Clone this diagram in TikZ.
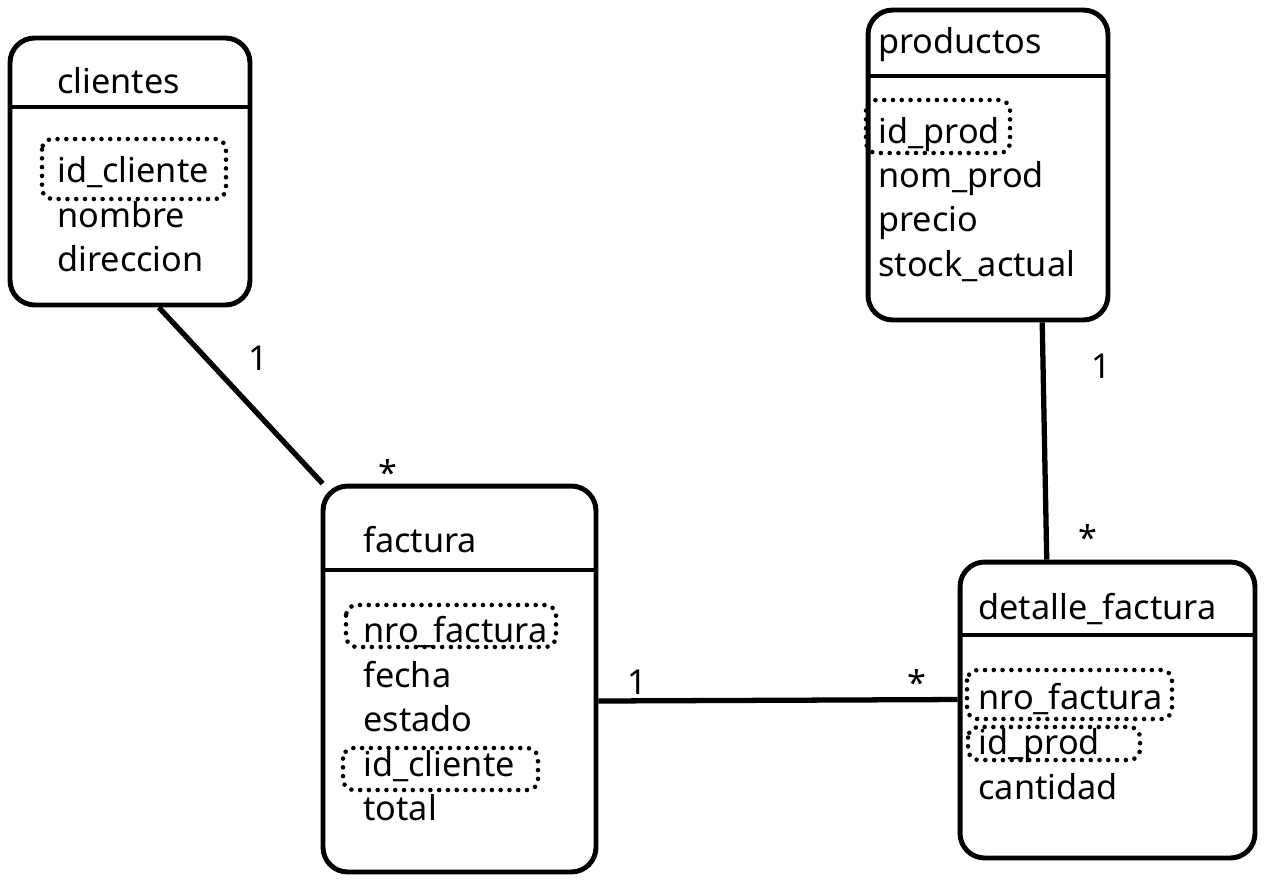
\documentclass[tikz,border=0pt]{standalone}
\usepackage{fontspec}
\setmainfont{Noto Sans}
\tikzset{
  table/.style={draw, line width=2.8pt, rounded corners=14pt, inner sep=0pt},
  field/.style={anchor=base west, inner sep=0pt, font=\fontsize{19.5}{22}\selectfont},
  keybox/.style={line width=2.6pt, dash pattern=on 0pt off 5pt, line cap=round, rounded corners=6pt},
  rel/.style={line width=3pt},
  mult/.style={inner sep=0pt, font=\fontsize{19.5}{22}\selectfont}
}
\begin{document}
\begin{tikzpicture}[x=0.02cm,y=-0.02cm]
  \useasboundingbox (0,0) rectangle (1266,883);
  % tables
  \node [table, minimum width=4.8cm, minimum height=5.34cm] (clientes) at (130,171.5) {};
  \node [table, minimum width=4.8cm, minimum height=6.2cm] (productos) at (988,165) {};
  \node [table, minimum width=5.46cm, minimum height=7.72cm] (factura) at (459.5,679) {};
  \node [table, minimum width=5.9cm, minimum height=5.92cm] (detalle) at (1107.5,710) {};
  % header lines
  \draw [line width=2.8pt] (clientes.west |- 0,107) -- (clientes.east |- 0,107);
  \draw [line width=2.8pt] (productos.west |- 0,76) -- (productos.east |- 0,76);
  \draw [line width=2.8pt] (factura.west |- 0,570) -- (factura.east |- 0,570);
  \draw [line width=2.8pt] (detalle.west |- 0,635) -- (detalle.east |- 0,635);
  % clientes
  \node [field] (cli_title) at (57,93) {clientes};
  \node [field] (cli_id) at (57,182) {id\_cliente};
  \node [field] (cli_nom) at (57,227) {nombre};
  \node [field] (cli_dir) at (57,271) {direccion};
  \draw [keybox] (42,139) rectangle (226,199);
  % productos
  \node [field] (pro_title) at (878,53) {productos};
  \node [field] (pro_id) at (878,143) {id\_prod};
  \node [field] (pro_nom) at (878,187) {nom\_prod};
  \node [field] (pro_pre) at (878,231) {precio};
  \node [field] (pro_stk) at (878,276) {stock\_actual};
  \draw [keybox] (866,100) rectangle (1010,153);
  % factura
  \node [field] (fac_title) at (363,552) {factura};
  \node [field] (fac_nro) at (363,642) {nro\_factura};
  \node [field] (fac_fec) at (363,687) {fecha};
  \node [field] (fac_est) at (363,731) {estado};
  \node [field] (fac_cli) at (363,776) {id\_cliente};
  \node [field] (fac_tot) at (363,820) {total};
  \draw [keybox] (346,605) rectangle (556,647);
  \draw [keybox] (343,748) rectangle (538,790);
  % detalle_factura
  \node [field] (det_title) at (978,619) {detalle\_factura};
  \node [field] (det_nro) at (978,709) {nro\_factura};
  \node [field] (det_pro) at (978,754) {id\_prod};
  \node [field] (det_can) at (978,799) {cantidad};
  \draw [keybox] (967,670) rectangle (1172,719);
  \draw [keybox] (968,727) rectangle (1140,760);
  % relations
  \draw [rel] (clientes.-78) -- (factura.125);
  \draw [rel] (productos.-71) -- (detalle.112);
  \draw [rel] (factura.-9.2) -- (detalle.176.5);
  % multiplicities
  \node [mult] (m1) at (258,358) {1};
  \node [mult] (m2) at (388,472) {*};
  \node [mult] (m3) at (1101,366) {1};
  \node [mult] (m4) at (1088,537) {*};
  \node [mult] (m5) at (637,682) {1};
  \node [mult] (m6) at (917,682) {*};
\end{tikzpicture}
\end{document}
